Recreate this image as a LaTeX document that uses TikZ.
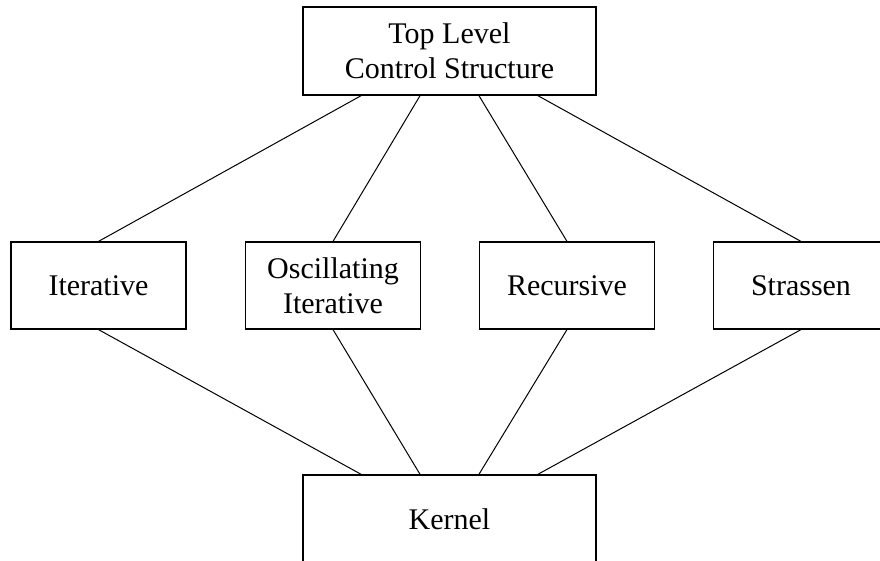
\documentclass[tikz,border=0pt]{standalone}
\usepackage{fontspec}
\setmainfont{Liberation Serif}
\usetikzlibrary{calc}

\tikzset{
  box/.style={draw, line width=0.6pt, align=center, inner sep=0pt,
    font=\fontsize{15}{17.5}\selectfont},
  topbox/.style={box, minimum width=146.5pt, minimum height=44pt},
  midbox/.style={box, minimum width=87.5pt, minimum height=43.5pt},
  link/.style={line width=0.5pt}
}

\begin{document}
\begin{tikzpicture}[x=0.5pt, y=-0.5pt]

\useasboundingbox (0,0) rectangle (880,561);
\clip (0,0) rectangle (880,561);

% boxes
\node[topbox] (top) at (449.5, 51) {Top Level\\Control Structure};
\node[midbox] (iter) at (98.5, 285.5) {Iterative};
\node[midbox] (osc) at (333, 285.5) {Oscillating\\Iterative};
\node[midbox] (rec) at (567, 285.5) {Recursive};
\node[midbox] (str) at (801, 285.5) {Strassen};
\node[topbox] (kernel) at (449.5, 519) {Kernel};

% links
\draw[link] ($(top.south west)!0.2!(top.south east)$) -- (iter.north);
\draw[link] ($(top.south west)!0.4!(top.south east)$) -- (osc.north);
\draw[link] ($(top.south west)!0.6!(top.south east)$) -- (rec.north);
\draw[link] ($(top.south west)!0.8!(top.south east)$) -- (str.north);
\draw[link] (iter.south) -- ($(kernel.north west)!0.2!(kernel.north east)$);
\draw[link] (osc.south) -- ($(kernel.north west)!0.4!(kernel.north east)$);
\draw[link] (rec.south) -- ($(kernel.north west)!0.6!(kernel.north east)$);
\draw[link] (str.south) -- ($(kernel.north west)!0.8!(kernel.north east)$);
\end{tikzpicture}
\end{document}
